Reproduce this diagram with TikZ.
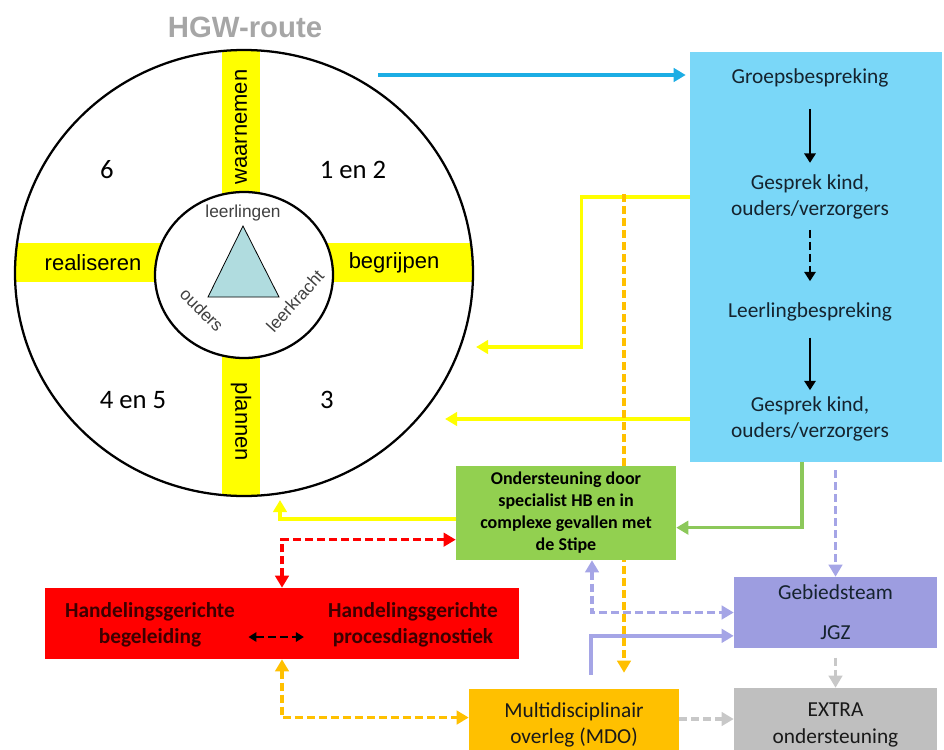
\documentclass[tikz,border=0pt]{standalone}
\usepackage{fontspec}
\setmainfont{Carlito}
\newfontfamily\arial{Liberation Sans}
\usetikzlibrary{arrows.meta,backgrounds}

\definecolor{lichtblauw}{HTML}{7AD7F8}
\definecolor{pijlblauw}{HTML}{1CADE4}
\definecolor{geel}{HTML}{FFFF00}
\definecolor{groen}{HTML}{92D050}
\definecolor{groenpijl}{HTML}{8CC85A}
\definecolor{rood}{HTML}{FF0000}
\definecolor{roodtekst}{HTML}{3C0000}
\definecolor{paars}{HTML}{9D9DE0}
\definecolor{paarspijl}{HTML}{A5A5E6}
\definecolor{oranje}{HTML}{FFC000}
\definecolor{grijs}{HTML}{BFBFBF}
\definecolor{grijspijl}{HTML}{C8C8C8}
\definecolor{driehoek}{HTML}{B0DCDF}
\definecolor{titelgrijs}{HTML}{A6A6A6}
\definecolor{donker}{HTML}{15232E}

\tikzset{
  vak/.style={rectangle, inner sep=0pt, align=center},
  tekst/.style={inner sep=0pt, align=center, font=\fontsize{16}{19}\selectfont, text=donker},
  fase/.style={inner sep=0pt, font=\arial\fontsize{16.5}{18}\selectfont, text=black},
  getal/.style={inner sep=0pt, font=\fontsize{20}{22}\selectfont},
  hoek/.style={inner sep=0pt, font=\arial\fontsize{13}{15}\selectfont, text=black!75},
  pijl/.style={line width=2.6pt, -{Triangle[length=9pt,width=10pt]}},
  dubbel/.style={line width=2.4pt, {Triangle[length=9pt,width=10pt]}-{Triangle[length=9pt,width=10pt]}},
  zwartpijl/.style={line width=1.5pt, -{Triangle[length=7pt,width=8.5pt]}},
  stippel/.style={dash pattern=on 6pt off 3pt},
}

\begin{document}
\begin{tikzpicture}[x=0.75pt,y=-0.75pt]
\useasboundingbox (0,0) rectangle (944,749);

% HGW-route cirkel
\node[font=\arial\bfseries\fontsize{22}{24}\selectfont, text=titelgrijs] (titel) at (245,27) {HGW-route};
\begin{scope}
  \clip (244,273) ellipse [x radius=229, y radius=223];
  \fill[geel] (222,40) rectangle (260,510);
  \fill[geel] (0,243) rectangle (490,282);
\end{scope}
\draw[line width=1.7pt] (244,273) ellipse [x radius=229, y radius=223];
\draw[line width=1.7pt, fill=white] (244,275) ellipse [x radius=89, y radius=83];
\draw[line width=0.6pt, fill=driehoek] (243,226) -- (208,297) -- (279,297) -- cycle;

\node[fase, rotate=90] (waarnemen) at (241,127) {waarnemen};
\node[fase, rotate=-90] (plannen) at (241,422) {plannen};
\node[fase] (realiseren) at (93,263) {realiseren};
\node[fase] (begrijpen) at (394,263) {begrijpen};

\node[getal] (fase6) at (107,170) {6};
\node[getal] (fase12) at (353,170) {1 en 2};
\node[getal] (fase45) at (133,400) {4 en 5};
\node[getal] (fase3) at (327,400) {3};

\node[hoek] (leerlingen) at (243,213) {leerlingen};
\node[hoek, rotate=-45] (ouders) at (202,310) {ouders};
\node[hoek, rotate=48] (leerkracht) at (295,301) {leerkracht};

% besprekingen
\node[vak, fill=lichtblauw, minimum width=189pt, minimum height=307.5pt] (bespreking) at (816,257) {};
\node[tekst] (groep) at (810,78) {Groepsbespreking};
\node[tekst] (gesprek1) at (810,197) {Gesprek kind,\\ouders/verzorgers};
\node[tekst] (leerling) at (810,312) {Leerlingbespreking};
\node[tekst] (gesprek2) at (810,419) {Gesprek kind,\\ouders/verzorgers};
\draw[zwartpijl, shorten <=16pt, shorten >=9pt] (groep) -- (gesprek1);
\draw[zwartpijl, stippel, shorten <=8pt, shorten >=16pt] (gesprek1) -- (leerling);
\draw[zwartpijl, shorten <=12pt, shorten >=5pt] (leerling) -- (gesprek2);

% ondersteuning
\node[vak, fill=groen, minimum width=165pt, minimum height=70.5pt, font=\bfseries\fontsize{13.5}{16.5}\selectfont] (specialist) at (566,513) {Ondersteuning door\\specialist HB en in\\complexe gevallen met\\de Stipe};

\node[vak, fill=rood, minimum width=355.5pt, minimum height=53.25pt] (hg) at (282,623.5) {};
\node[tekst, font=\bfseries\fontsize{16}{19.5}\selectfont, text=roodtekst] (begeleiding) at (150,625) {Handelingsgerichte\\begeleiding};
\node[tekst, font=\bfseries\fontsize{16}{19.5}\selectfont, text=roodtekst] (diagnostiek) at (413,625) {Handelingsgerichte\\procesdiagnostiek};
\draw[line width=1.6pt, stippel, {Triangle[length=6pt,width=7pt]}-{Triangle[length=6pt,width=7pt]}, shorten <=10pt, shorten >=18pt] ([yshift=-9pt]begeleiding.east) -- ([yshift=-9pt]diagnostiek.west);

\node[vak, fill=paars, minimum width=152.25pt, minimum height=53.25pt, font=\fontsize{16}{30}\selectfont, text=donker] (gebied) at (835.5,612.5) {Gebiedsteam\\JGZ};
\node[vak, fill=grijs, minimum width=152.25pt, minimum height=55.5pt, font=\fontsize{16}{20}\selectfont, text=black!90] (extra) at (835.5,725) {EXTRA\\ondersteuning};
\node[vak, fill=oranje, minimum width=157.5pt, minimum height=54pt, font=\fontsize{16}{19.5}\selectfont, text=black!90] (mdo) at (574,725) {Multidisciplinair\\overleg (MDO)};

% verbindingen
\coordinate (hgw) at (378,75);
\coordinate (geel1) at (476,347);
\coordinate (geel2) at (445,419);
\coordinate (geel3) at (280,500);
\coordinate (mdolijn) at (624,194);
\begin{scope}[on background layer]
\draw[pijl, pijlblauw, shorten >=3pt] (hgw) -- (hgw -| bespreking.west);
\draw[pijl, geel] (bespreking.west |- gesprek1) -- ++(-108,0) |- (geel1);
\draw[pijl, geel] (bespreking.west |- gesprek2) -- (geel2);
\draw[pijl, geel] ([yshift=-4.5pt]specialist.west) -| (geel3);
\draw[dubbel, stippel, rood] (hg.north) |- ([yshift=-20pt]specialist.west);
\draw[pijl, groenpijl] ([xshift=-10.5pt]bespreking.south) |- ([yshift=-11pt]specialist.east);
\draw[pijl, stippel, paarspijl, shorten <=6pt] (bespreking.south -| gebied.north) -- (gebied.north);
\draw[dubbel, stippel, paarspijl] ([xshift=19.5pt]specialist.south) |- (gebied.west);
\draw[pijl, paarspijl, shorten <=10.5pt] ([xshift=12.75pt]mdo.north) |- ([yshift=-17.5pt]gebied.west);
\draw[pijl, stippel, grijspijl, shorten <=7pt] (gebied.south) -- (extra.north);
\draw[pijl, stippel, grijspijl] ([yshift=4.5pt]mdo.east) -- ([yshift=4.5pt]extra.west);
\draw[dubbel, stippel, oranje] (hg.south) |- ([yshift=5.6pt]mdo.west);
\draw[pijl, stippel, oranje, shorten >=12pt] (mdolijn) -- (mdolijn |- mdo.north);
\end{scope}
\end{tikzpicture}
\end{document}
